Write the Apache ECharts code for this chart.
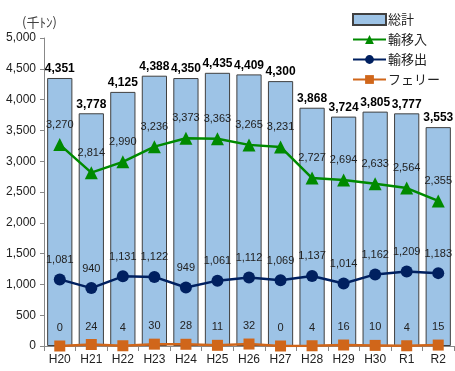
<!DOCTYPE html>
<html><head><meta charset="utf-8">
<script src="https://cdn.jsdelivr.net/npm/echarts@6/dist/echarts.min.js"></script>
<style>html,body{margin:0;padding:0;background:#fff}#c{width:455px;height:371px}</style>
</head><body><div id="c"></div>
<script>
const categories = ['H20','H21','H22','H23','H24','H25','H26','H27','H28','H29','H30','R1','R2'];
const total = [4351,3778,4125,4388,4350,4435,4409,4300,3868,3724,3805,3777,3553];
const imports = [3270,2814,2990,3236,3373,3363,3265,3231,2727,2694,2633,2564,2355];
const exportsV = [1081,940,1131,1122,949,1061,1112,1069,1137,1014,1162,1209,1183];
const ferry = [0,24,4,30,28,11,32,0,4,16,10,4,15];

const fmt = v => Number(v).toLocaleString('en-US');
const numFont = 'Liberation Sans, Arial, sans-serif';
const jpFont = 'Noto Sans CJK JP, sans-serif';

const chart = echarts.init(document.getElementById('c'), null, {renderer:'canvas'});
chart.setOption({
  animation:false,
  grid:{left:44, right:1, top:38, bottom:25},
  graphic:[{type:'text', left:22, top:16, style:{text:'(千ﾄﾝ)', font:'13px '+jpFont, fill:'#404040'}}],
  legend:{
    orient:'vertical', right:10, top:8, itemGap:7, itemWidth:33, itemHeight:11,
    textStyle:{fontFamily:jpFont, fontSize:13, color:'#222', padding:[0,0,0,-3]},
    data:[{name:'総計', icon:'rect'},'輸移入','輸移出','フェリー']
  },
  xAxis:{
    type:'category', data:categories,
    axisLine:{lineStyle:{color:'#888'}},
    axisTick:{show:true, lineStyle:{color:'#888'}},
    axisLabel:{fontFamily:numFont, fontSize:12, color:'#222', margin:8}
  },
  yAxis:{
    type:'value', min:0, max:5000, interval:500,
    axisLine:{show:true, lineStyle:{color:'#888'}},
    axisTick:{show:true, length:4, lineStyle:{color:'#888'}},
    splitLine:{show:false},
    axisLabel:{fontFamily:numFont, fontSize:12, color:'#222', margin:8, formatter:v=>fmt(v)}
  },
  series:[
    {name:'総計', type:'bar', data:total, barCategoryGap:'20%',
     itemStyle:{color:'#9DC3E6', borderColor:'#404040', borderWidth:1},
     label:{show:true, position:'top', distance:3, fontFamily:numFont, fontSize:12, fontWeight:'bold', color:'#000', formatter:p=>fmt(p.value)}},
    {name:'輸移入', type:'line', data:imports, symbol:'triangle', symbolSize:13,
     lineStyle:{color:'#008A00', width:2.5}, itemStyle:{color:'#008A00'},
     label:{show:true, position:'top', distance:8, fontFamily:numFont, fontSize:11, color:'#222', formatter:p=>fmt(p.value)}},
    {name:'輸移出', type:'line', data:exportsV, symbol:'circle', symbolSize:12,
     lineStyle:{color:'#002060', width:2.5}, itemStyle:{color:'#002060'},
     label:{show:true, position:'top', distance:8, fontFamily:numFont, fontSize:11, color:'#222', formatter:p=>fmt(p.value)}},
    {name:'フェリー', type:'line', data:ferry, symbol:'rect', symbolSize:11,
     lineStyle:{color:'#D0661A', width:2.5}, itemStyle:{color:'#D0661A'},
     label:{show:true, position:'top', distance:7, fontFamily:numFont, fontSize:11, color:'#222', formatter:p=>fmt(p.value)}}
  ]
});
</script></body></html>
